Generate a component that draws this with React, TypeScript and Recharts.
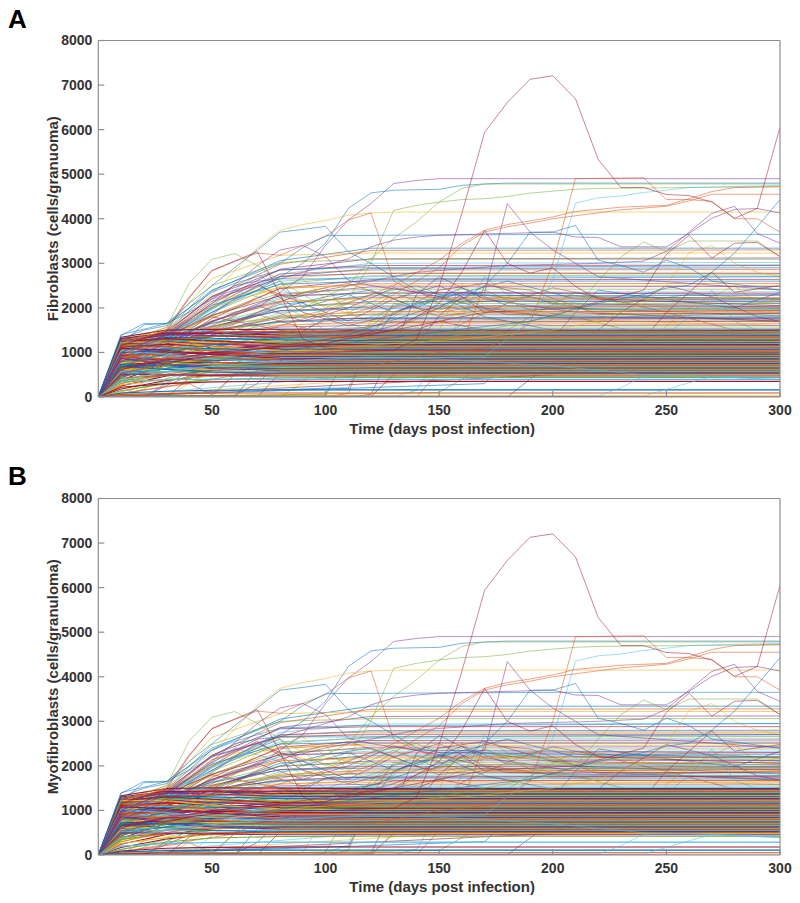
import React from "react";
import { LineChart, Line, XAxis, YAxis } from "recharts";

const PALETTE = ["#0072BD", "#D95319", "#EDB120", "#7E2F8E", "#77AC30", "#4DBEEE", "#A2142F"];

const xTicks = [50, 100, 150, 200, 250, 300];
const yTicks = [0, 1000, 2000, 3000, 4000, 5000, 6000, 7000, 8000];

// days at which the "settled" runs are read, last value is the plateau
const settleDays = [0, 10, 30, 50, 80, 120, 300];

const fibroSettled = [
  [0, 1130, 1480, 2380, 3060, 3340, 3340],
  [0, 1020, 1420, 2250, 2980, 3290, 3300],
  [0, 1250, 1560, 2660, 3180, 3230, 3230],
  [0, 940, 1380, 2100, 2870, 3100, 3120],
  [0, 1180, 1500, 2500, 3020, 3090, 3090],
  [0, 860, 1310, 1980, 2760, 3000, 3020],
  [0, 1080, 1450, 2260, 2850, 2950, 2960],
  [0, 780, 1260, 2010, 2700, 2880, 2900],
  [0, 1010, 1390, 2150, 2760, 2850, 2860],
  [0, 900, 1330, 2040, 2660, 2790, 2800],
  [0, 1160, 1470, 2240, 2710, 2770, 2770],
  [0, 720, 1210, 1900, 2540, 2720, 2740],
  [0, 980, 1350, 1980, 2600, 2700, 2700],
  [0, 650, 1120, 1760, 2440, 2630, 2640],
  [0, 1100, 1440, 2060, 2530, 2600, 2600],
  [0, 830, 1240, 1820, 2430, 2540, 2550],
  [0, 1210, 1490, 2020, 2460, 2500, 2500],
  [0, 590, 1080, 1680, 2290, 2470, 2480],
  [0, 950, 1300, 1840, 2330, 2420, 2420],
  [0, 760, 1190, 1700, 2240, 2350, 2360],
  [0, 1060, 1380, 1830, 2270, 2330, 2330],
  [0, 520, 980, 1520, 2080, 2270, 2280],
  [0, 890, 1270, 1710, 2130, 2230, 2230],
  [0, 1140, 1410, 1790, 2140, 2200, 2200],
  [0, 680, 1110, 1560, 2010, 2140, 2150],
  [0, 970, 1290, 1660, 2020, 2100, 2100],
  [0, 470, 900, 1400, 1890, 2050, 2060],
  [0, 810, 1190, 1580, 1940, 2020, 2020],
  [0, 1040, 1330, 1650, 1930, 1980, 1980],
  [0, 610, 1030, 1460, 1810, 1920, 1930],
  [0, 920, 1230, 1560, 1830, 1900, 1900],
  [0, 740, 1120, 1480, 1770, 1860, 1870],
  [0, 1110, 1370, 1590, 1790, 1840, 1840],
  [0, 550, 950, 1350, 1680, 1790, 1800],
  [0, 860, 1180, 1480, 1700, 1770, 1770],
  [0, 1000, 1280, 1510, 1680, 1730, 1730],
  [0, 660, 1040, 1370, 1610, 1690, 1690],
  [0, 1190, 1390, 1530, 1620, 1650, 1650],
  [0, 790, 1120, 1400, 1570, 1610, 1610],
  [0, 430, 840, 1220, 1490, 1570, 1570],
  [0, 1270, 1430, 1510, 1530, 1530, 1530],
  [0, 1340, 1500, 1520, 1510, 1500, 1500],
  [0, 900, 1180, 1360, 1460, 1480, 1480],
  [0, 1290, 1420, 1460, 1470, 1465, 1465],
  [0, 640, 980, 1240, 1420, 1450, 1450],
  [0, 1230, 1400, 1440, 1440, 1435, 1435],
  [0, 1050, 1260, 1360, 1410, 1420, 1420],
  [0, 770, 1070, 1270, 1380, 1400, 1400],
  [0, 1310, 1440, 1430, 1390, 1385, 1385],
  [0, 500, 860, 1130, 1320, 1370, 1370],
  [0, 1170, 1310, 1360, 1360, 1355, 1355],
  [0, 950, 1170, 1290, 1340, 1340, 1340],
  [0, 1260, 1400, 1380, 1330, 1325, 1325],
  [0, 700, 980, 1180, 1290, 1310, 1310],
  [0, 1090, 1240, 1290, 1300, 1295, 1295],
  [0, 380, 730, 1000, 1220, 1280, 1280],
  [0, 1210, 1340, 1320, 1280, 1265, 1265],
  [0, 850, 1060, 1190, 1240, 1250, 1250],
  [0, 1020, 1170, 1230, 1240, 1235, 1235],
  [0, 600, 880, 1070, 1190, 1220, 1220],
  [0, 1150, 1280, 1260, 1220, 1205, 1205],
  [0, 920, 1090, 1170, 1190, 1190, 1190],
  [0, 1240, 1310, 1260, 1190, 1175, 1175],
  [0, 440, 760, 970, 1120, 1160, 1160],
  [0, 1060, 1190, 1190, 1160, 1145, 1145],
  [0, 730, 940, 1060, 1120, 1130, 1130],
  [0, 1190, 1240, 1190, 1130, 1115, 1115],
  [0, 880, 1040, 1090, 1100, 1100, 1100],
  [0, 540, 810, 970, 1060, 1085, 1085],
  [0, 1120, 1180, 1130, 1080, 1070, 1070],
  [0, 990, 1080, 1080, 1060, 1055, 1055],
  [0, 660, 870, 980, 1030, 1040, 1040],
  [0, 1230, 1230, 1130, 1050, 1025, 1025],
  [0, 810, 950, 1000, 1010, 1010, 1010],
  [0, 340, 650, 850, 970, 995, 995],
  [0, 1070, 1110, 1050, 990, 980, 980],
  [0, 930, 1000, 990, 970, 965, 965],
  [0, 590, 780, 890, 940, 950, 950],
  [0, 1150, 1130, 1030, 950, 935, 935],
  [0, 760, 870, 910, 920, 920, 920],
  [0, 1010, 1020, 960, 910, 905, 905],
  [0, 480, 690, 810, 880, 890, 890],
  [0, 870, 920, 900, 880, 875, 875],
  [0, 1090, 1050, 950, 870, 860, 860],
  [0, 690, 790, 830, 840, 845, 845],
  [0, 950, 950, 880, 835, 830, 830],
  [0, 300, 560, 730, 800, 815, 815],
  [0, 810, 850, 830, 805, 800, 800],
  [0, 620, 720, 770, 785, 785, 785],
  [0, 1030, 960, 850, 780, 770, 770],
  [0, 730, 780, 770, 755, 755, 755],
  [0, 530, 640, 710, 735, 740, 740],
  [0, 900, 850, 780, 730, 725, 725],
  [0, 390, 570, 670, 705, 710, 710],
  [0, 680, 720, 710, 695, 695, 695],
  [0, 820, 780, 720, 685, 680, 680],
  [0, 570, 630, 655, 665, 665, 665],
  [0, 250, 470, 600, 640, 650, 650],
  [0, 730, 700, 660, 640, 635, 635],
  [0, 480, 570, 610, 620, 620, 620],
  [0, 620, 630, 615, 605, 605, 605],
  [0, 870, 740, 640, 595, 590, 590],
  [0, 360, 490, 555, 575, 575, 575],
  [0, 540, 570, 565, 560, 560, 560],
  [0, 180, 370, 490, 535, 545, 545],
  [0, 690, 620, 560, 530, 530, 530],
  [0, 420, 490, 510, 515, 515, 515],
  [0, 270, 400, 465, 490, 495, 495],
  [0, 510, 500, 480, 470, 470, 470],
  [0, 140, 300, 390, 430, 440, 440],
  [0, 340, 390, 400, 395, 395, 395],
  [0, 220, 300, 340, 350, 350, 350],
  [0, 90, 130, 150, 160, 160, 160],
  [0, 60, 80, 90, 90, 90, 90],
  [0, 20, 20, 20, 20, 20, 20],
];

const myoSettled = [
  [0, 1120, 1470, 2360, 3050, 3340, 3340],
  [0, 1010, 1410, 2230, 2970, 3270, 3280],
  [0, 1240, 1550, 2640, 3170, 3220, 3220],
  [0, 930, 1370, 2080, 2860, 3110, 3120],
  [0, 1170, 1490, 2480, 3000, 3060, 3060],
  [0, 850, 1300, 1960, 2750, 2940, 2950],
  [0, 1070, 1440, 2240, 2830, 2880, 2880],
  [0, 770, 1250, 1990, 2690, 2790, 2800],
  [0, 1000, 1380, 2130, 2700, 2760, 2760],
  [0, 890, 1320, 2020, 2630, 2720, 2730],
  [0, 1150, 1460, 2220, 2660, 2700, 2700],
  [0, 710, 1200, 1880, 2500, 2650, 2660],
  [0, 970, 1340, 1960, 2540, 2620, 2620],
  [0, 640, 1110, 1740, 2420, 2570, 2580],
  [0, 1090, 1430, 2040, 2490, 2530, 2530],
  [0, 820, 1230, 1800, 2390, 2500, 2500],
  [0, 1200, 1480, 2000, 2430, 2460, 2460],
  [0, 580, 1070, 1660, 2270, 2420, 2430],
  [0, 940, 1290, 1820, 2310, 2380, 2380],
  [0, 750, 1180, 1680, 2220, 2330, 2330],
  [0, 1050, 1370, 1810, 2250, 2290, 2290],
  [0, 510, 970, 1500, 2060, 2240, 2250],
  [0, 880, 1260, 1690, 2110, 2200, 2200],
  [0, 1130, 1400, 1770, 2120, 2160, 2160],
  [0, 670, 1100, 1540, 1990, 2110, 2120],
  [0, 960, 1280, 1640, 2000, 2070, 2070],
  [0, 460, 890, 1380, 1870, 2030, 2030],
  [0, 800, 1180, 1560, 1920, 1990, 1990],
  [0, 1030, 1320, 1630, 1910, 1950, 1950],
  [0, 600, 1020, 1440, 1790, 1910, 1910],
  [0, 910, 1220, 1540, 1810, 1880, 1880],
  [0, 730, 1110, 1460, 1750, 1850, 1850],
  [0, 1100, 1360, 1570, 1770, 1820, 1820],
  [0, 540, 940, 1330, 1660, 1780, 1780],
  [0, 850, 1170, 1460, 1680, 1750, 1750],
  [0, 990, 1270, 1490, 1660, 1710, 1710],
  [0, 650, 1030, 1350, 1590, 1670, 1670],
  [0, 1180, 1380, 1510, 1600, 1630, 1630],
  [0, 780, 1110, 1380, 1550, 1590, 1590],
  [0, 420, 830, 1200, 1470, 1550, 1550],
  [0, 1260, 1420, 1490, 1520, 1520, 1520],
  [0, 1330, 1490, 1510, 1500, 1490, 1490],
  [0, 890, 1170, 1340, 1440, 1470, 1470],
  [0, 1280, 1410, 1450, 1460, 1450, 1450],
  [0, 630, 970, 1220, 1400, 1435, 1435],
  [0, 1220, 1390, 1430, 1425, 1420, 1420],
  [0, 1040, 1250, 1340, 1395, 1405, 1405],
  [0, 760, 1060, 1250, 1370, 1390, 1390],
  [0, 1300, 1430, 1415, 1380, 1375, 1375],
  [0, 490, 850, 1110, 1310, 1360, 1360],
  [0, 1160, 1300, 1350, 1345, 1340, 1340],
  [0, 940, 1160, 1280, 1325, 1325, 1325],
  [0, 1250, 1390, 1370, 1315, 1310, 1310],
  [0, 690, 970, 1160, 1275, 1295, 1295],
  [0, 1080, 1230, 1280, 1285, 1280, 1280],
  [0, 370, 720, 990, 1210, 1265, 1265],
  [0, 1200, 1330, 1305, 1265, 1250, 1250],
  [0, 840, 1050, 1180, 1230, 1235, 1235],
  [0, 1010, 1160, 1220, 1225, 1220, 1220],
  [0, 590, 870, 1060, 1175, 1205, 1205],
  [0, 1140, 1270, 1250, 1205, 1190, 1190],
  [0, 910, 1080, 1160, 1180, 1175, 1175],
  [0, 1230, 1300, 1250, 1175, 1160, 1160],
  [0, 430, 750, 960, 1105, 1145, 1145],
  [0, 1050, 1180, 1180, 1145, 1130, 1130],
  [0, 720, 930, 1050, 1105, 1115, 1115],
  [0, 1180, 1230, 1180, 1115, 1100, 1100],
  [0, 870, 1030, 1080, 1085, 1085, 1085],
  [0, 530, 800, 960, 1045, 1070, 1070],
  [0, 1110, 1170, 1120, 1065, 1055, 1055],
  [0, 980, 1070, 1070, 1045, 1040, 1040],
  [0, 650, 860, 970, 1015, 1025, 1025],
  [0, 1220, 1220, 1120, 1035, 1010, 1010],
  [0, 800, 940, 990, 995, 995, 995],
  [0, 330, 640, 840, 955, 980, 980],
  [0, 1060, 1100, 1040, 975, 965, 965],
  [0, 920, 990, 980, 955, 950, 950],
  [0, 580, 770, 880, 925, 935, 935],
  [0, 1140, 1120, 1020, 935, 920, 920],
  [0, 750, 860, 900, 905, 905, 905],
  [0, 1000, 1010, 950, 895, 890, 890],
  [0, 470, 680, 800, 865, 875, 875],
  [0, 860, 910, 890, 865, 860, 860],
  [0, 1080, 1040, 940, 855, 845, 845],
  [0, 680, 780, 820, 825, 830, 830],
  [0, 940, 940, 870, 820, 815, 815],
  [0, 290, 550, 720, 785, 800, 800],
  [0, 800, 840, 820, 790, 785, 785],
  [0, 610, 710, 760, 770, 770, 770],
  [0, 1020, 950, 840, 765, 755, 755],
  [0, 720, 770, 760, 740, 740, 740],
  [0, 520, 630, 700, 720, 725, 725],
  [0, 890, 840, 770, 715, 710, 710],
  [0, 380, 560, 660, 690, 695, 695],
  [0, 670, 710, 700, 680, 680, 680],
  [0, 810, 770, 710, 670, 665, 665],
  [0, 560, 620, 645, 650, 650, 650],
  [0, 240, 460, 590, 625, 635, 635],
  [0, 720, 690, 650, 625, 620, 620],
  [0, 470, 560, 600, 605, 605, 605],
  [0, 610, 620, 605, 590, 590, 590],
  [0, 860, 730, 630, 580, 575, 575],
  [0, 350, 480, 545, 560, 560, 560],
  [0, 530, 560, 555, 545, 545, 545],
  [0, 170, 360, 480, 520, 530, 530],
  [0, 680, 610, 550, 515, 515, 515],
  [0, 410, 480, 500, 500, 500, 500],
  [0, 260, 390, 455, 475, 480, 480],
  [0, 500, 490, 470, 455, 455, 455],
  [0, 130, 290, 380, 415, 420, 420],
  [0, 200, 260, 280, 290, 290, 290],
  [0, 90, 150, 170, 180, 180, 180],
  [0, 70, 100, 110, 110, 110, 110],
  [0, 40, 50, 50, 50, 50, 50],
];

// runs that stay near zero and take off late, flat day,value pairs
const fibroLate = [
  [0, 0, 10, 0, 20, 340, 30, 520, 50, 620, 300, 620],
  [0, 0, 10, 0, 20, 180, 30, 420, 60, 760, 100, 820, 300, 820],
  [0, 0, 20, 0, 30, 310, 40, 560, 70, 880, 300, 900],
  [0, 0, 20, 0, 30, 260, 40, 470, 60, 510, 300, 510],
  [0, 0, 30, 0, 40, 420, 50, 760, 80, 1180, 300, 1210],
  [0, 0, 30, 0, 40, 300, 60, 920, 90, 1300, 300, 1320],
  [0, 0, 40, 0, 50, 460, 60, 820, 80, 1250, 120, 1400, 300, 1420],
  [0, 0, 40, 300, 50, 50, 60, 510, 80, 930, 300, 960],
  [0, 0, 50, 0, 60, 500, 70, 1000, 90, 1420, 300, 1480],
  [0, 0, 60, 0, 70, 620, 80, 1180, 100, 1760, 300, 1800],
  [0, 0, 60, 40, 70, 300, 80, 820, 100, 1100, 300, 1150],
  [0, 0, 70, 0, 80, 540, 90, 1040, 110, 1500, 130, 1680, 300, 1700],
  [0, 0, 80, 0, 90, 320, 100, 900, 110, 1350, 130, 1900, 160, 2020, 300, 2050],
  [0, 0, 90, 0, 100, 20, 110, 1050, 120, 1560, 130, 2040, 150, 2180, 300, 2150],
  [0, 0, 100, 0, 110, 80, 120, 1350, 130, 2100, 150, 1900, 170, 2050, 300, 2100],
  [0, 0, 100, 60, 110, 1000, 120, 1700, 130, 2050, 140, 2250, 160, 1950, 300, 1980],
  [0, 0, 100, 200, 110, 200, 120, 1200, 130, 1900, 150, 2260, 170, 1800, 200, 1500, 300, 1400],
  [0, 0, 110, 0, 120, 60, 130, 1100, 140, 2300, 150, 2700, 170, 2200, 210, 1900, 300, 1700],
  [0, 0, 120, 0, 130, 520, 140, 1180, 150, 1820, 160, 2250, 170, 1900, 300, 1940],
  [0, 0, 120, 30, 140, 900, 150, 1500, 160, 2550, 170, 2050, 200, 1750, 300, 1600],
  [0, 0, 130, 0, 140, 150, 150, 950, 160, 1800, 170, 2700, 180, 2300, 220, 2050, 300, 2000],
  [0, 0, 140, 0, 150, 560, 160, 1200, 170, 2500, 190, 2400, 220, 1850, 300, 1900],
  [0, 0, 150, 100, 170, 700, 180, 1500, 190, 1800, 210, 2350, 230, 2100, 260, 2300, 300, 2200],
  [0, 0, 170, 300, 180, 800, 200, 1300, 210, 1900, 220, 2400, 240, 2250, 280, 2000, 300, 2350],
  [0, 0, 180, 0, 190, 400, 210, 1100, 230, 1900, 250, 2500, 270, 2250, 290, 1800, 300, 1700],
  [0, 0, 200, 500, 220, 1200, 240, 1300, 250, 1900, 270, 2800, 280, 2350, 300, 2500],
  [0, 0, 220, 700, 240, 900, 250, 1600, 260, 2000, 280, 2500, 290, 2100, 300, 2200],
  [0, 0, 240, 1000, 250, 1400, 260, 1800, 270, 2400, 280, 1700, 300, 1300],
  [0, 0, 150, 1200, 160, 1650, 180, 2100, 200, 2450, 220, 2250, 250, 1900, 280, 1500, 300, 1500],
  [0, 0, 130, 1500, 150, 2000, 170, 2400, 190, 1950, 210, 1800, 240, 1400, 300, 1100],
];

const myoLate = [
  [0, 0, 10, 0, 20, 320, 30, 510, 50, 600, 300, 600],
  [0, 0, 10, 0, 20, 170, 30, 400, 60, 740, 100, 800, 300, 800],
  [0, 0, 20, 0, 30, 300, 40, 540, 70, 860, 300, 880],
  [0, 0, 20, 0, 30, 240, 40, 450, 60, 490, 300, 490],
  [0, 0, 30, 0, 40, 400, 50, 740, 80, 1160, 300, 1190],
  [0, 0, 30, 0, 40, 280, 60, 900, 90, 1280, 300, 1300],
  [0, 0, 40, 0, 50, 440, 60, 800, 80, 1230, 120, 1380, 300, 1400],
  [0, 0, 40, 280, 50, 40, 60, 490, 80, 910, 300, 940],
  [0, 0, 50, 0, 60, 480, 70, 980, 90, 1400, 300, 1460],
  [0, 0, 60, 0, 70, 600, 80, 1160, 100, 1740, 300, 1780],
  [0, 0, 60, 30, 70, 280, 80, 800, 100, 1080, 300, 1130],
  [0, 0, 70, 0, 80, 520, 90, 1020, 110, 1480, 130, 1660, 300, 1680],
  [0, 0, 80, 0, 90, 60, 100, 880, 110, 1330, 130, 1880, 160, 2000, 300, 2030],
  [0, 0, 90, 0, 100, 40, 110, 230, 120, 1540, 130, 2020, 150, 2160, 300, 2130],
  [0, 0, 100, 0, 110, 100, 120, 1330, 130, 2080, 150, 1880, 170, 2030, 300, 2080],
  [0, 0, 100, 60, 110, 980, 120, 1680, 130, 2030, 140, 2230, 160, 1930, 300, 1960],
  [0, 0, 100, 200, 110, 180, 120, 1180, 130, 1880, 150, 2240, 170, 1780, 200, 1480, 300, 1380],
  [0, 0, 110, 0, 120, 40, 130, 1080, 140, 2280, 150, 2680, 170, 2180, 210, 1880, 300, 1680],
  [0, 0, 120, 0, 130, 500, 140, 1160, 150, 1800, 160, 2230, 170, 1880, 300, 1920],
  [0, 0, 120, 30, 140, 880, 150, 1480, 160, 2530, 170, 2030, 200, 1730, 300, 1580],
  [0, 0, 130, 0, 140, 130, 150, 930, 160, 1780, 170, 2680, 180, 2280, 220, 2030, 300, 1980],
  [0, 0, 140, 0, 150, 540, 160, 1180, 170, 2480, 190, 2380, 220, 1830, 300, 1880],
  [0, 0, 150, 100, 170, 680, 180, 1480, 190, 1780, 210, 2330, 230, 2230, 260, 2280, 300, 2180],
  [0, 0, 170, 300, 180, 780, 200, 1280, 210, 1880, 220, 2380, 240, 2230, 280, 1980, 300, 2330],
  [0, 0, 180, 0, 190, 380, 210, 1080, 230, 1880, 250, 2480, 270, 2230, 290, 1780, 300, 1680],
  [0, 0, 200, 480, 220, 1180, 240, 1280, 250, 1880, 270, 2780, 280, 2330, 300, 2480],
  [0, 0, 220, 680, 240, 880, 250, 1580, 260, 1980, 280, 2480, 290, 2080, 300, 2180],
  [0, 0, 240, 980, 250, 1380, 260, 1780, 270, 2380, 280, 1680, 300, 1280],
  [0, 0, 150, 1180, 160, 1630, 180, 2080, 200, 2430, 220, 2230, 250, 1880, 280, 1480, 300, 1480],
  [0, 0, 130, 1480, 150, 1980, 170, 2380, 190, 1930, 210, 1780, 240, 1380, 300, 1080],
];

// wandering runs through the 1500-2800 zone between day 60 and day 200
const wanderRuns = [
  [0, 0, 10, 850, 30, 1300, 50, 1900, 70, 2500, 90, 2100, 110, 1700, 130, 2200, 150, 2500, 170, 2000, 200, 1800, 300, 1750],
  [0, 0, 10, 1050, 30, 1350, 50, 2050, 70, 2750, 80, 2450, 100, 1800, 120, 1500, 140, 2100, 160, 2350, 190, 2150, 300, 2130],
  [0, 0, 10, 760, 30, 1150, 60, 2200, 80, 2600, 90, 2000, 110, 2300, 130, 1900, 150, 2200, 180, 2600, 210, 2200, 300, 2180],
  [0, 0, 10, 640, 30, 1050, 60, 1800, 70, 2300, 90, 2650, 100, 2200, 120, 2000, 140, 2400, 160, 1800, 200, 1600, 300, 1650],
  [0, 0, 10, 980, 30, 1280, 50, 1700, 80, 2200, 100, 2450, 110, 1900, 130, 2350, 150, 1950, 170, 2300, 220, 1950, 300, 1960],
  [0, 0, 10, 1120, 30, 1400, 60, 2300, 70, 2550, 90, 1900, 110, 1600, 130, 1850, 150, 2400, 170, 2550, 200, 2100, 300, 2020],
  [0, 0, 10, 540, 40, 1100, 70, 1900, 90, 2350, 110, 2550, 130, 2200, 150, 1800, 170, 1950, 210, 1750, 300, 1780],
  [0, 0, 10, 880, 30, 1240, 50, 1600, 70, 2050, 90, 1700, 110, 2000, 130, 2450, 150, 2250, 180, 1850, 230, 1800, 300, 1880],
  [0, 0, 10, 1220, 30, 1420, 50, 1950, 60, 2400, 80, 2100, 100, 1500, 120, 1800, 140, 2200, 170, 2150, 240, 2250, 300, 2100],
  [0, 0, 10, 700, 30, 1100, 60, 1650, 80, 2000, 100, 2250, 120, 2400, 140, 2000, 160, 2450, 180, 2050, 260, 1900, 300, 1820],
  [0, 0, 10, 930, 30, 1320, 50, 2150, 70, 2400, 100, 2050, 120, 1700, 150, 1650, 170, 2200, 200, 2350, 250, 2000, 300, 1900],
  [0, 0, 10, 480, 40, 1000, 70, 1600, 100, 1950, 120, 2300, 140, 2500, 160, 2100, 190, 2250, 220, 1900, 270, 1750, 300, 1700],
  [0, 0, 10, 1080, 30, 1380, 50, 1800, 70, 1600, 90, 1400, 110, 1500, 130, 1300, 150, 1700, 170, 1500, 210, 1450, 300, 1500],
  [0, 0, 10, 790, 30, 1180, 50, 1500, 70, 1850, 90, 1550, 110, 1300, 140, 1550, 160, 1400, 200, 1350, 250, 1500, 300, 1380],
];

// the runs that stand clear of the band, the two panels read the same here
const peakRun = [0, 0, 10, 620, 30, 820, 60, 950, 100, 1000, 130, 1050, 140, 1290, 150, 2475, 160, 4120, 170, 5940, 180, 6610, 190, 7130, 200, 7207, 210, 6690, 220, 5330, 230, 4700, 240, 4700, 250, 4545, 260, 4520, 270, 4375, 280, 4010, 290, 4230, 300, 6050];

const highRuns = [
  [0, 0, 10, 800, 30, 1200, 50, 1700, 70, 2000, 90, 2700, 100, 3400, 110, 3970, 120, 4340, 130, 4790, 140, 4860, 150, 4900, 300, 4900],
  [0, 0, 10, 1000, 30, 1400, 50, 1900, 70, 2400, 90, 3000, 100, 3450, 110, 4230, 120, 4580, 130, 4640, 150, 4660, 160, 4750, 170, 4780, 180, 4800, 300, 4800],
  [0, 0, 10, 1250, 20, 1380, 30, 1560, 40, 2560, 50, 3090, 60, 3220, 70, 2950, 80, 2600, 100, 2000, 110, 2200, 120, 3000, 130, 4190, 140, 4300, 150, 4375, 160, 4430, 170, 4450, 180, 4500, 190, 4575, 200, 4620, 210, 4660, 220, 4680, 300, 4720],
  [0, 0, 10, 700, 30, 1000, 60, 1500, 90, 2000, 110, 2500, 120, 3100, 130, 3560, 140, 3930, 150, 4375, 160, 4680, 170, 4780, 300, 4780],
  [0, 0, 10, 1200, 30, 1500, 50, 2300, 70, 3350, 80, 3740, 90, 3870, 100, 3960, 110, 4080, 120, 4130, 130, 4150, 300, 4150],
  [0, 0, 10, 1180, 20, 1300, 30, 1520, 40, 2250, 50, 2830, 60, 3040, 70, 3230, 80, 3180, 90, 3400, 100, 3600, 110, 3970, 120, 4130, 130, 2600, 140, 2350, 150, 2200, 300, 2200],
  [0, 0, 10, 1150, 30, 1480, 40, 2220, 50, 2840, 60, 3050, 70, 3260, 80, 2300, 90, 1300, 100, 1100, 110, 1050, 300, 1000],
  [0, 0, 10, 1380, 20, 1650, 30, 1640, 40, 2100, 50, 2500, 60, 2900, 70, 3300, 80, 3700, 90, 3760, 100, 3830, 110, 3260, 120, 3000, 130, 2700, 140, 2400, 150, 2300, 300, 2200],
  [0, 0, 10, 1300, 20, 1500, 30, 1600, 50, 2400, 70, 2800, 80, 3000, 90, 3350, 100, 3620, 130, 3630, 200, 3650, 300, 3650],
  [0, 0, 10, 950, 30, 1350, 50, 2100, 70, 2950, 80, 3300, 90, 3400, 100, 3150, 110, 2620, 120, 2500, 140, 2350, 300, 2300],
  [0, 0, 10, 1000, 30, 1400, 50, 2200, 70, 2500, 90, 2800, 110, 3100, 120, 3370, 130, 3520, 140, 3590, 150, 3630, 200, 3700, 210, 3590, 220, 3580, 230, 3370, 240, 3370, 250, 3370, 260, 3670, 270, 4010, 280, 4210, 290, 4230, 300, 4130],
  [0, 0, 10, 900, 30, 1250, 60, 1900, 100, 2400, 140, 2800, 180, 2950, 220, 3000, 240, 3050, 250, 3270, 260, 3700, 270, 4120, 280, 4280, 290, 3670, 300, 3450],
  [0, 0, 10, 300, 50, 700, 120, 700, 150, 1000, 170, 1100, 180, 1300, 190, 1660, 200, 3000, 210, 4900, 240, 4920, 250, 4430, 260, 4430, 270, 4390, 280, 4000, 290, 4000, 300, 3700],
  [0, 0, 10, 400, 50, 700, 100, 850, 170, 900, 190, 1700, 200, 2630, 210, 4350, 220, 4470, 230, 4510, 240, 4590, 250, 4640, 260, 4700, 300, 4750],
  [0, 0, 10, 600, 30, 900, 60, 1300, 100, 1900, 130, 2500, 150, 3070, 160, 3450, 170, 3740, 180, 3870, 190, 3950, 200, 4040, 210, 4165, 220, 4210, 230, 4260, 240, 4280, 250, 4300, 260, 4450, 270, 4610, 280, 4700, 300, 4720],
  [0, 0, 10, 500, 40, 900, 80, 1400, 120, 2000, 150, 2900, 160, 3400, 170, 3700, 180, 3820, 190, 3900, 200, 4000, 230, 4200, 250, 4280, 260, 4400, 270, 4550, 300, 4550],
  [0, 0, 10, 650, 50, 1000, 100, 1200, 130, 1500, 140, 1800, 150, 2100, 160, 2800, 170, 3740, 180, 3000, 190, 2780, 200, 2900, 210, 2480, 220, 2200, 300, 2050],
  [0, 0, 10, 620, 30, 850, 70, 1100, 100, 1200, 130, 1600, 150, 2000, 160, 2300, 170, 2340, 180, 4340, 190, 3700, 200, 3300, 210, 3000, 220, 2700, 300, 2400],
  [0, 0, 10, 720, 40, 1100, 70, 1300, 110, 1400, 140, 1900, 160, 2200, 170, 2500, 180, 3000, 190, 3700, 200, 3700, 210, 3850, 220, 3070, 230, 2950, 240, 2800, 250, 3070, 260, 2900, 270, 2600, 300, 2400],
  [0, 0, 10, 430, 30, 700, 60, 950, 100, 1050, 120, 1100, 140, 1200, 180, 1600, 200, 1800, 210, 2000, 220, 2600, 230, 3145, 240, 3480, 250, 3260, 260, 3500, 290, 3500, 300, 3150],
  [0, 0, 10, 560, 50, 900, 100, 1100, 160, 1300, 200, 1500, 220, 1700, 240, 2100, 250, 2500, 260, 3235, 270, 3400, 280, 3000, 290, 2800, 300, 2700],
  [0, 0, 10, 540, 40, 850, 80, 1150, 130, 1500, 170, 1900, 210, 2000, 240, 2400, 250, 3200, 260, 3630, 270, 3115, 280, 3450, 290, 3470, 300, 3150],
  [0, 0, 10, 470, 50, 800, 90, 1100, 140, 1400, 190, 1700, 220, 2100, 240, 2300, 250, 2445, 260, 2510, 270, 2800, 280, 3230, 290, 3820, 300, 4430],
  [0, 0, 10, 380, 40, 650, 80, 800, 120, 900, 150, 850, 200, 700, 240, 500, 300, 430],
  [0, 0, 220, 20, 230, 210, 240, 465, 260, 480, 300, 390],
  [0, 0, 240, 20, 250, 170, 260, 320, 270, 460, 300, 390],
  [0, 0, 10, 1400, 20, 1520, 30, 1650, 40, 1900, 50, 2200, 60, 2500, 70, 2600, 80, 2650, 120, 2650, 300, 2700],
  [0, 0, 10, 1200, 20, 1620, 30, 1650, 40, 2000, 50, 2350, 60, 2550, 70, 2700, 80, 2850, 110, 2900, 300, 2950],
  [0, 0, 10, 30, 300, 0],
  peakRun,
];

const highColors = [3, 0, 4, 4, 2, 1, 6, 0, 0, 3, 3, 3, 1, 5, 1, 1, 6, 3, 0, 4, 2, 6, 0, 5, 5, 5, 0, 0, 6, 6];

const panelA = { label: "A", yLabel: "Fibroblasts (cells/granuoma)", settled: fibroSettled, late: fibroLate };
const panelB = { label: "B", yLabel: "Myofibroblasts (cells/granuloma)", settled: myoSettled, late: myoLate };

function pairsToPoints(row: number[]) {
  const points: { day: number; value: number }[] = [];
  for (let i = 0; i < row.length; i += 2) points.push({ day: row[i], value: row[i + 1] });
  return points;
}

function run(key: string, data: { day: number; value: number }[], color: string, width = 0.9, opacity = 1) {
  return (
    <Line
      key={key}
      data={data}
      dataKey="value"
      stroke={color}
      strokeWidth={width}
      strokeOpacity={opacity}
      type="linear"
      dot={false}
      activeDot={false}
      isAnimationActive={false}
    />
  );
}

const axisTick = { fontSize: 14, fontWeight: 700, fill: "#333", fontFamily: "Liberation Sans" };
const axisStroke = "#8e8e8e";
const titleStyle = { fontSize: 15, fontWeight: 700, fill: "#333", fontFamily: "Liberation Sans" };

function Panel({ panel, top }: { panel: typeof panelA; top: number }) {
  return (
    <div style={{ position: "absolute", left: 0, top }}>
      <div
        style={{
          position: "absolute",
          left: 8,
          top: panel.label === "A" ? 4 : 3,
          fontFamily: "Liberation Sans",
          fontWeight: 700,
          fontSize: 26,
          color: "#000",
          zIndex: 2,
        }}
      >
        {panel.label}
      </div>
      <LineChart width={800} height={445} margin={{ top: 39.5, right: 19, bottom: 47, left: 38.3 }}>
        <XAxis
          dataKey="day"
          type="number"
          domain={[0, 300]}
          ticks={xTicks}
          stroke={axisStroke}
          strokeWidth={1.2}
          tickSize={-6}
          tickMargin={14}
          height={1}
          tick={axisTick}
          allowDataOverflow
          label={{
            value: "Time (days post infection)",
            position: "insideBottom",
            offset: -36,
            dx: 3,
            style: titleStyle,
          }}
        />
        <XAxis
          xAxisId="top"
          orientation="top"
          dataKey="day"
          type="number"
          domain={[0, 300]}
          ticks={xTicks}
          stroke={axisStroke}
          strokeWidth={1.2}
          tickSize={-6}
          height={1}
          tick={false}
        />
        <YAxis
          type="number"
          domain={[0, 8000]}
          ticks={yTicks}
          stroke={axisStroke}
          strokeWidth={1.2}
          tickSize={-6}
          tickMargin={12}
          width={60}
          interval={0}
          tick={axisTick}
          allowDataOverflow
          label={{
            value: panel.yLabel,
            angle: -90,
            position: "insideLeft",
            offset: 14,
            style: { ...titleStyle, textAnchor: "middle" },
          }}
        />
        <YAxis
          yAxisId="right"
          orientation="right"
          type="number"
          domain={[0, 8000]}
          ticks={yTicks}
          stroke={axisStroke}
          strokeWidth={1.2}
          tickSize={-6}
          width={1}
          interval={0}
          tick={false}
        />
        {wanderRuns.map((row, i) => run(`wander-${i}`, pairsToPoints(row), PALETTE[(i * 2 + 3) % 7], 0.7, 0.85))}
        {panel.late.map((row, i) => run(`late-${i}`, pairsToPoints(row), PALETTE[(i * 3 + 1) % 7], 0.7, 0.85))}
        {panel.settled.map((row, i) =>
          run(
            `settled-${i}`,
            settleDays.map((day, j) => ({ day, value: row[j] })),
            PALETTE[i % 7],
            i < 40 ? 0.8 : 1.1,
            i < 40 ? 0.75 : 1
          )
        )}
        {highRuns.map((row, i) => run(`high-${i}`, pairsToPoints(row), PALETTE[highColors[i]], 0.7, 0.75))}
      </LineChart>
    </div>
  );
}

export default function App() {
  return (
    <div style={{ position: "absolute", left: 0, top: 0, width: 800, height: 903, background: "#fff" }}>
      <Panel panel={panelA} top={0} />
      <Panel panel={panelB} top={457.8} />
    </div>
  );
}
